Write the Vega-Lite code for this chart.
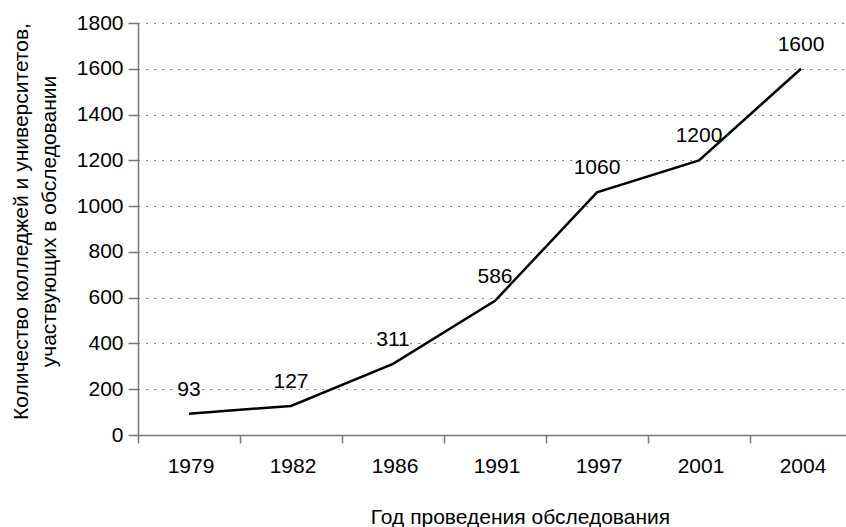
{
  "$schema": "https://vega.github.io/schema/vega-lite/v6.json",
  "autosize": {"type": "none"},
  "padding": {"left": 138, "top": 23, "right": 0, "bottom": 92},
  "width": 708,
  "height": 412,
  "background": "white",
  "config": {
    "view": {"stroke": null},
    "font": "Liberation Sans",
    "axis": {"labelFont": "Liberation Sans", "titleFont": "Liberation Sans", "labelFontSize": 21, "titleFontSize": 21, "labelColor": "#000000", "titleColor": "#000000", "titleFontWeight": "normal", "domainColor": "#777777", "tickColor": "#777777", "domainWidth": 1.5, "tickWidth": 1.5}
  },
  "data": {
    "values": [
      {"year": "1979", "value": 93},
      {"year": "1982", "value": 127},
      {"year": "1986", "value": 311},
      {"year": "1991", "value": 586},
      {"year": "1997", "value": 1060},
      {"year": "2001", "value": 1200},
      {"year": "2004", "value": 1600}
    ]
  },
  "encoding": {
    "x": {
      "field": "year", "type": "ordinal", "sort": null,
      "scale": {"type": "band", "paddingInner": 0, "paddingOuter": 0, "range": [0, 714]},
      "axis": {"title": "Год проведения обследования", "labelAngle": 0, "bandPosition": 0, "labelOffset": 2, "tickSize": 8, "labelPadding": 12, "titlePadding": 30, "titleX": 382, "grid": false}
    },
    "y": {
      "field": "value", "type": "quantitative",
      "scale": {"domain": [0, 1800], "nice": false},
      "axis": {"title": ["Количество колледжей и университетов,", "участвующих в обследовании"], "format": "d", "values": [0, 200, 400, 600, 800, 1000, 1200, 1400, 1600, 1800], "tickSize": 10, "labelPadding": 5, "titlePadding": 17, "titleY": 198, "grid": true, "gridColor": "#333333", "gridDash": [1.2, 6.8], "gridWidth": 1.2, "titleLineHeight": 28}
    }
  },
  "layer": [
    {"mark": {"type": "line", "color": "#000000", "strokeWidth": 2.5}},
    {"mark": {"type": "text", "fontSize": 21, "color": "#000000", "dy": -24, "baseline": "middle"}, "encoding": {"text": {"field": "value", "type": "quantitative"}}}
  ]
}
